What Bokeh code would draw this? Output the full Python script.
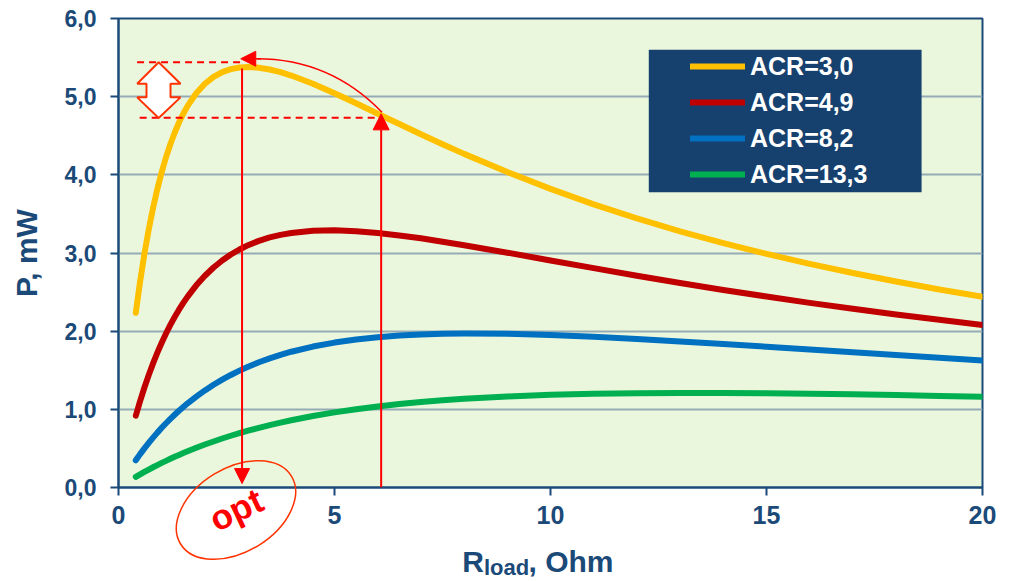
from bokeh.plotting import figure
from bokeh.models import (Range1d, FixedTicker, CustomJSTickFormatter, Legend, LegendItem,
                          BoxAnnotation, Arrow, NormalHead)
from bokeh.core.properties import value
from bokeh.embed import file_html
from bokeh.resources import INLINE

# ---------------- data ----------------
r_load = [0.4, 0.5, 0.6, 0.7, 0.8, 0.9, 1.0, 1.1, 1.2, 1.3, 1.4, 1.5, 1.6, 1.8, 2.0, 2.2,
          2.4, 2.6, 2.8, 3.0, 3.25, 3.5, 3.75, 4.0, 4.5, 5.0, 5.5, 6.0, 6.5, 7.0, 7.5, 8.0,
          9.0, 10.0, 11.0, 12.0, 13.0, 14.0, 15.0, 16.0, 17.0, 18.0, 19.0, 20.0]
p_acr_3_0 = [2.234, 2.635, 2.989, 3.301, 3.577, 3.820, 4.035, 4.225, 4.392, 4.539, 4.669,
             4.782, 4.882, 5.044, 5.165, 5.253, 5.314, 5.353, 5.374, 5.380, 5.371, 5.348,
             5.314, 5.270, 5.165, 5.044, 4.915, 4.782, 4.650, 4.519, 4.392, 4.268, 4.035,
             3.820, 3.623, 3.443, 3.278, 3.127, 2.989, 2.861, 2.744, 2.635, 2.534, 2.441]
p_acr_4_9 = [0.918, 1.106, 1.279, 1.439, 1.588, 1.725, 1.852, 1.970, 2.080, 2.181, 2.275,
             2.362, 2.442, 2.586, 2.709, 2.814, 2.904, 2.981, 3.045, 3.100, 3.155, 3.199,
             3.232, 3.256, 3.284, 3.290, 3.279, 3.256, 3.225, 3.188, 3.145, 3.100, 3.004,
             2.905, 2.806, 2.709, 2.616, 2.527, 2.443, 2.362, 2.286, 2.213, 2.145, 2.080]
p_acr_8_2 = [0.349, 0.427, 0.501, 0.571, 0.638, 0.702, 0.763, 0.822, 0.878, 0.931, 0.982,
             1.030, 1.077, 1.163, 1.242, 1.314, 1.380, 1.440, 1.495, 1.545, 1.602, 1.652,
             1.697, 1.737, 1.803, 1.854, 1.894, 1.923, 1.944, 1.958, 1.966, 1.970, 1.966,
             1.951, 1.928, 1.900, 1.869, 1.836, 1.801, 1.765, 1.730, 1.694, 1.659, 1.625]
p_acr_13_3 = [0.137, 0.169, 0.200, 0.230, 0.259, 0.287, 0.315, 0.341, 0.367, 0.393, 0.417,
              0.441, 0.464, 0.508, 0.550, 0.589, 0.627, 0.662, 0.695, 0.727, 0.764, 0.798,
              0.830, 0.860, 0.914, 0.961, 1.002, 1.037, 1.067, 1.093, 1.116, 1.135, 1.165,
              1.186, 1.199, 1.207, 1.210, 1.209, 1.206, 1.200, 1.192, 1.183, 1.172, 1.161]
series_values = [p_acr_3_0, p_acr_4_9, p_acr_8_2, p_acr_13_3]
series_labels = ["ACR=3,0", "ACR=4,9", "ACR=8,2", "ACR=13,3"]
series_colors = ["#ffc000", "#c00000", "#0070c0", "#00b050"]

x_ticks = [0, 5, 10, 15, 20]
y_ticks = [0, 1, 2, 3, 4, 5, 6]

# annotation geometry (data units)
r_opt = 2.86
r_work = 6.08
p_max_level = 5.44
p_work_level = 4.73
dash_x0 = [0.43, 0.49]
dash_x1 = [2.82, 6.06]
dash_y = [p_max_level, p_work_level]
dbl_arrow_x = [0.93, 1.435, 1.204, 1.204, 1.435, 0.93, 0.433, 0.648, 0.648, 0.433]
dbl_arrow_y = [5.44, 5.166, 5.166, 4.991, 4.991, 4.728, 4.991, 4.991, 5.166, 5.166]

NAVY = "#1b4a78"
FONT = "Liberation Sans"

p = figure(width=1008, height=580, output_backend="svg", toolbar_location=None,
           x_range=Range1d(0, 20), y_range=Range1d(0, 6),
           min_border_left=118, min_border_right=26, min_border_top=18, min_border_bottom=93)

p.background_fill_color = "#ebf7dd"
p.border_fill_color = "white"
p.outline_line_color = NAVY
p.outline_line_width = 2

p.xaxis.ticker = FixedTicker(ticks=x_ticks)
p.yaxis.ticker = FixedTicker(ticks=y_ticks)
p.yaxis.formatter = CustomJSTickFormatter(code="return tick.toFixed(1).replace('.', ',')")

for ax in (p.xaxis, p.yaxis):
    ax.axis_line_color = NAVY
    ax.axis_line_width = 2
    ax.major_tick_line_color = NAVY
    ax.major_tick_line_width = 2
    ax.major_tick_out = 8
    ax.major_tick_in = 0
    ax.minor_tick_line_color = None
    ax.major_label_text_font = FONT
    ax.major_label_text_font_style = "bold"
    ax.major_label_text_color = NAVY

p.xaxis.major_label_text_font_size = "25px"
p.xaxis.major_label_standoff = 10
p.yaxis.major_label_text_font_size = "23px"
p.yaxis.major_label_standoff = 14

p.yaxis.axis_label = "P, mW"
p.yaxis.axis_label_text_font = FONT
p.yaxis.axis_label_text_font_style = "bold"
p.yaxis.axis_label_text_font_size = "30px"
p.yaxis.axis_label_text_color = NAVY
p.yaxis.axis_label_standoff = 19

p.xgrid.grid_line_color = None
p.ygrid.grid_line_color = "#95acb6"
p.ygrid.grid_line_width = 2

renderers = []
for vals, col in zip(series_values, series_colors):
    r = p.line(r_load, vals, line_color=col, line_width=6, line_cap="round", line_join="round")
    renderers.append(r)

# dashed level lines
p.segment(x0=dash_x0, y0=dash_y, x1=dash_x1, y1=dash_y,
          line_color="red", line_width=2, line_dash="7 5")

# block double arrow
p.patch(dbl_arrow_x, dbl_arrow_y, fill_color="white", line_color="#ff3300", line_width=2)

# curved arrow from working point to the maximum
p.quadratic(x0=[6.1], y0=[4.80], x1=[3.2], y1=[5.485], cx=[4.9], cy=[5.485],
            line_color="red", line_width=1.5)
p.add_layout(Arrow(end=NormalHead(size=15, fill_color="red", line_color="red"),
                   x_start=3.3, y_start=5.485, x_end=2.83, y_end=5.485,
                   line_color="red", line_width=1.5))

# vertical arrows
p.add_layout(Arrow(end=NormalHead(size=15, fill_color="red", line_color="red"),
                   x_start=r_opt, y_start=5.36, x_end=r_opt, y_end=0.05,
                   line_color="red", line_width=2))
p.add_layout(Arrow(end=NormalHead(size=16, fill_color="red", line_color="red"),
                   x_start=r_work, y_start=0.0, x_end=r_work, y_end=4.78,
                   line_color="red", line_width=2))

# "opt" ellipse and text (below the axis, drawn unclipped at annotation level)
p.ellipse(x=[2.72], y=[-0.288], width=[130], height=[84], width_units="screen",
          height_units="screen", angle=0.55, fill_color=None, line_color="#ff3300",
          line_width=1.5, level="annotation")
p.text(x=[2.72], y=[-0.28], text=["opt"], angle=0.44, text_align="center",
       text_baseline="middle", text_color="red", text_font=value(FONT),
       text_font_style="bold", text_font_size="35px", level="annotation")

# x axis label with subscript
p.text(x=[7.96, 9.49], y=[-0.95, -0.95], text=["R", ", Ohm"], text_font=value(FONT),
       text_font_style="bold", text_font_size="30px", text_color=NAVY,
       text_baseline="middle", level="annotation")
p.text(x=[8.46], y=[-1.025], text=["load"], text_font=value(FONT),
       text_font_style="bold", text_font_size="22px", text_color=NAVY,
       text_baseline="middle", level="annotation")

# legend
p.add_layout(BoxAnnotation(left=12.275, right=18.59, top=5.6, bottom=3.776,
                           fill_color="#16416e", fill_alpha=1.0, line_color=None))
legend = Legend(items=[LegendItem(label=lab, renderers=[r]) for lab, r in zip(series_labels, renderers)],
                location=(572, 296), background_fill_alpha=0, border_line_color=None,
                label_text_color="white", label_text_font=FONT, label_text_font_style="bold",
                label_text_font_size="25px", glyph_width=55, glyph_height=34, label_height=34,
                label_standoff=5, spacing=2, padding=10, margin=0)
p.add_layout(legend)

open("out.html", "w").write(file_html(p, INLINE))
